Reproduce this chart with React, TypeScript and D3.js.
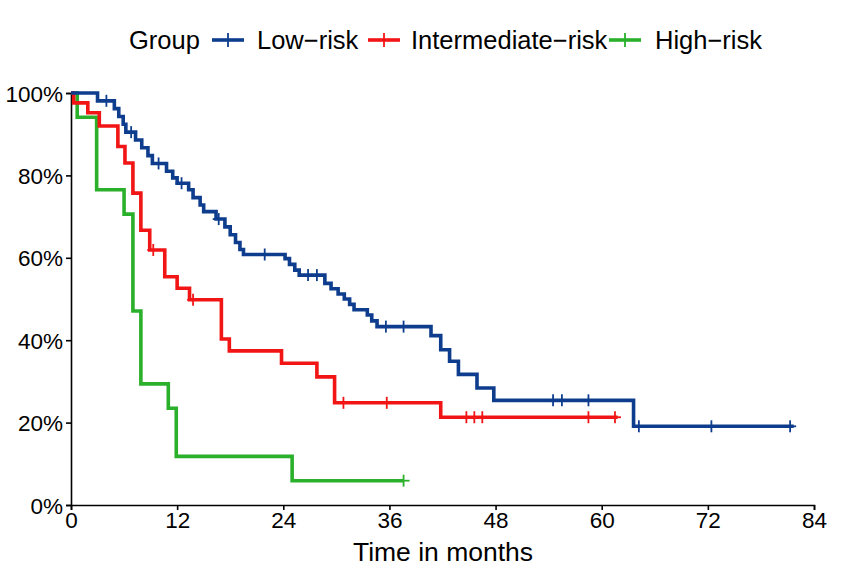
import React, { useEffect, useRef } from 'react';
import * as d3 from 'd3';

// Kaplan-Meier steps: time (months) -> survival (%) after the drop
const lowTimes = [0, 3.0, 4.9, 5.4, 5.9, 6.2, 7.3, 8.0, 8.7, 9.2, 10.8, 11.5, 12.0, 13.3, 13.8, 14.6, 15.0, 16.4, 17.4, 18.0, 18.6, 19.1, 19.5, 24.2, 24.7, 25.3, 25.8, 28.7, 29.4, 30.2, 30.9, 31.5, 32.0, 33.5, 34.0, 34.6, 40.7, 41.8, 42.8, 43.8, 45.9, 47.8, 63.6, 81.7];
const lowSurv = [100, 98.1, 96.2, 94.3, 92.4, 90.5, 88.6, 86.7, 84.8, 82.9, 81.0, 79.4, 78.1, 76.5, 74.6, 72.8, 71.2, 69.4, 67.5, 65.6, 63.7, 62.0, 60.8, 59.8, 58.4, 57.0, 55.8, 53.8, 52.5, 51.2, 50.0, 48.7, 47.4, 46.1, 44.7, 43.3, 41.1, 37.7, 34.9, 31.7, 28.4, 25.4, 19.1, 19.1];
const lowCensor = [4.0, 6.8, 9.9, 12.5, 16.7, 21.9, 26.8, 27.8, 35.6, 37.6, 54.5, 55.5, 58.5, 64.2, 72.4, 81.3];

const midTimes = [0, 0.3, 1.9, 3.2, 5.3, 6.1, 7.0, 7.9, 8.9, 10.6, 12.0, 13.4, 17.0, 17.9, 23.8, 27.8, 29.8, 41.8, 61.8];
const midSurv = [100, 97.6, 95.2, 92.0, 87.0, 83.0, 75.7, 66.7, 61.9, 55.4, 52.6, 49.8, 40.3, 37.4, 34.4, 31.1, 24.8, 21.3, 21.3];
const midCensor = [9.3, 13.8, 30.8, 35.7, 44.7, 45.6, 46.5, 58.5, 61.5];

const highTimes = [0, 0.7, 2.9, 6.0, 7.0, 7.9, 11.0, 11.9, 25.0, 37.6];
const highSurv = [100, 94.1, 76.5, 70.6, 47.1, 29.4, 23.5, 11.8, 5.9, 5.9];
const highCensor = [37.6];

const groupNames = ['Low-risk', 'Intermediate-risk', 'High-risk'];
const groupColors = ['#0e3d8e', '#f21515', '#2bb02b'];
const xTicks = [0, 12, 24, 36, 48, 60, 72, 84];
const yTicks = [0, 20, 40, 60, 80, 100];

const FONT = '"Liberation Sans", Arial, sans-serif';

export default function App() {
  const svgRef = useRef<SVGSVGElement>(null);

  useEffect(() => {
    if (!svgRef.current) return;
    const svg = d3.select(svgRef.current);
    svg.selectAll('*').remove();

    const left = 71;
    const right = 815;
    const top = 93;
    const bottom = 505;

    const x = d3.scaleLinear().domain([0, 84]).range([left, right - 1]);
    const y = d3.scaleLinear().domain([0, 100]).range([bottom, top]);

    svg.append('rect').attr('width', 858).attr('height', 581).attr('fill', 'white');

    // axes
    const yAxis = svg
      .append('g')
      .attr('transform', `translate(${left},0)`)
      .call(
        d3
          .axisLeft(y)
          .tickValues(yTicks)
          .tickSize(5)
          .tickPadding(3)
          .tickFormat((d) => `${d}%`)
      );
    const xAxis = svg
      .append('g')
      .attr('transform', `translate(0,${bottom})`)
      .call(d3.axisBottom(x).tickValues(xTicks).tickSize(5).tickPadding(2));

    [yAxis, xAxis].forEach((ax) => {
      ax.select('.domain').attr('stroke', '#000').attr('stroke-width', 1.6);
      ax.selectAll('.tick line').attr('stroke', '#000').attr('stroke-width', 1.6);
      ax.selectAll('.tick text')
        .attr('fill', '#000')
        .style('font-family', FONT)
        .style('font-size', '22.5px');
    });
    yAxis.selectAll('.tick text').attr('dy', '0.36em');

    svg
      .append('text')
      .attr('x', (left + right) / 2)
      .attr('y', 561)
      .attr('text-anchor', 'middle')
      .style('font-family', FONT)
      .style('font-size', '26.5px')
      .text('Time in months');

    const groups = [
      { times: lowTimes, surv: lowSurv, censor: lowCensor },
      { times: midTimes, surv: midSurv, censor: midCensor },
      { times: highTimes, surv: highSurv, censor: highCensor },
    ];

    const line = d3
      .line<[number, number]>()
      .x((d) => x(d[0]))
      .y((d) => y(d[1]))
      .curve(d3.curveStepAfter);

    const survAt = (times: number[], surv: number[], t: number) => {
      const i = d3.bisectRight(times, t) - 1;
      return surv[Math.max(0, i)];
    };

    // draw high first so low-risk sits on top like the original
    [2, 1, 0].forEach((gi) => {
      const g = groups[gi];
      const pts = g.times.map((t, i) => [t, g.surv[i]] as [number, number]);
      svg
        .append('path')
        .attr('d', line(pts) || '')
        .attr('fill', 'none')
        .attr('stroke', groupColors[gi])
        .attr('stroke-width', 3.6);

      const marks = svg.append('g').attr('stroke', groupColors[gi]).attr('stroke-width', 1.8);
      g.censor.forEach((t) => {
        const cx = x(t);
        const cy = y(survAt(g.times, g.surv, t));
        marks.append('line').attr('x1', cx).attr('x2', cx).attr('y1', cy - 6).attr('y2', cy + 6);
        marks.append('line').attr('x1', cx - 6).attr('x2', cx + 6).attr('y1', cy).attr('y2', cy);
      });
    });

    // legend
    const legend = svg.append('g').style('font-family', FONT).style('font-size', '25.5px');
    legend.append('text').attr('x', 129).attr('y', 49).text('Group');
    const keyX = [212, 368, 609];
    const labelX = [257, 411, 655];
    groupNames.forEach((name, i) => {
      const ky = 40;
      legend
        .append('line')
        .attr('x1', keyX[i])
        .attr('x2', keyX[i] + 32)
        .attr('y1', ky)
        .attr('y2', ky)
        .attr('stroke', groupColors[i])
        .attr('stroke-width', 3.6);
      legend
        .append('line')
        .attr('x1', keyX[i] + 16)
        .attr('x2', keyX[i] + 16)
        .attr('y1', ky - 7)
        .attr('y2', ky + 7)
        .attr('stroke', groupColors[i])
        .attr('stroke-width', 1.8);
      legend.append('text').attr('x', labelX[i]).attr('y', 49).text(name.replace('-', '\u2212'));
    });
  }, []);

  return (
    <svg
      ref={svgRef}
      width={858}
      height={581}
      style={{ position: 'absolute', left: 0, top: 0 }}
    />
  );
}
